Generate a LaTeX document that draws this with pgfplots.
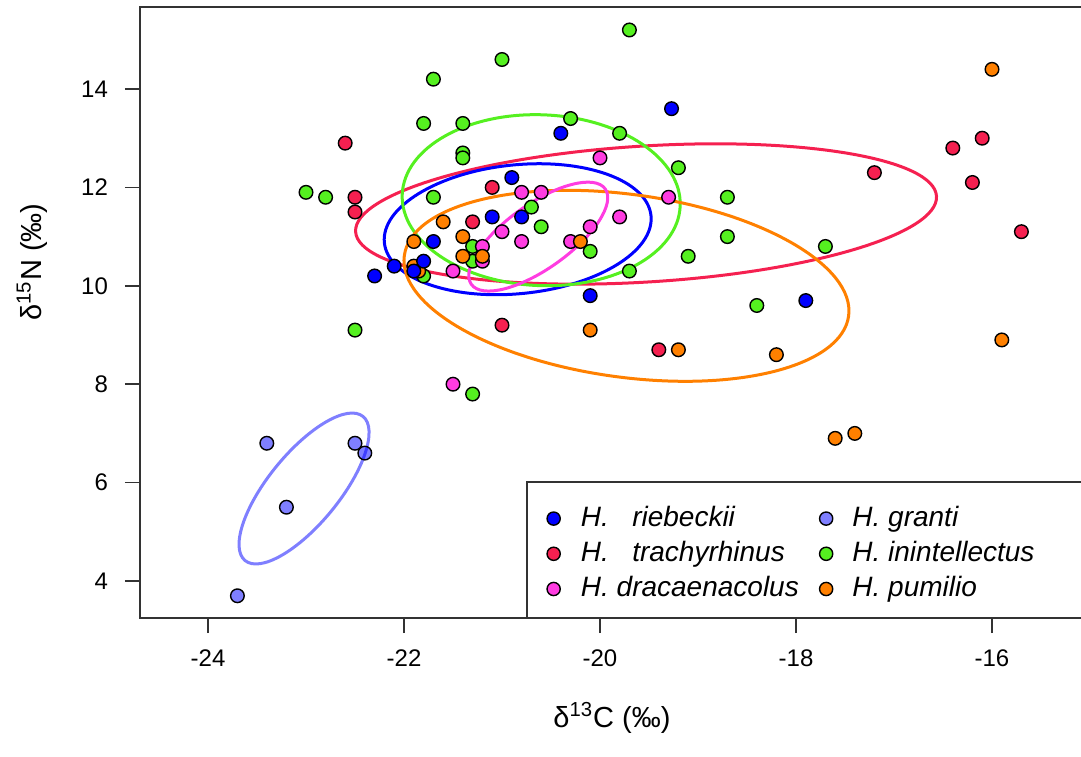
\documentclass[border=0pt]{standalone}
\usepackage{fontspec}
\setmainfont{Liberation Sans}
\usepackage{pgfplots}
\pgfplotsset{compat=1.18}

\definecolor{cblue}{RGB}{0,0,255}
\definecolor{cred}{RGB}{245,32,80}
\definecolor{cmag}{RGB}{255,60,225}
\definecolor{cgreen}{RGB}{85,240,32}
\definecolor{corange}{RGB}{255,128,0}

\pgfplotsset{
  pts/.style={only marks, mark=*, mark size=3.4pt, forget plot,
    mark options={draw=black, line width=0.7pt, fill=#1}},
  ptsfaded/.style={only marks, mark=*, mark size=3.4pt, forget plot,
    mark options={draw=black, line width=0.7pt, fill=#1, fill opacity=0.5}},
}

\begin{document}
\begin{tikzpicture}
\begin{axis}[
  scale only axis,
  width=475pt, height=305.5pt,
  xmin=-24.694, xmax=-15.0,
  ymin=3.248, ymax=15.667,
  xtick={-24,-22,-20,-18,-16},
  ytick={4,6,...,14},
  tick pos=left, tick align=outside,
  major tick length=7.5pt,
  axis line style={black!80, line width=1pt},
  tick style={black!80, line width=0.8pt},
  /pgf/number format/assume math mode=true,
  ticklabel style={font=\fontsize{12}{14}\selectfont},
  xticklabel style={yshift=-5pt},
  yticklabel style={xshift=-5pt},
  xlabel={δ\textsuperscript{13}C (‰)},
  ylabel={δ\textsuperscript{15}N (‰)},
  label style={font=\fontsize{14.5}{16}\selectfont},
  xlabel style={at={(axis description cs:0.4968,-0.1637)}, anchor=center},
  ylabel style={at={(axis description cs:-0.1137,0.5826)}, anchor=center},
  legend columns=2,
  legend cell align=left,
  legend image code/.code={\filldraw[#1, line width=0.7pt] (0pt,0pt) circle[radius=3.3pt];},
  legend style={draw=none, fill=none, at={(axis description cs:0.421,0.192)}, anchor=north west,
    font=\fontsize{14}{16}\selectfont\itshape, row sep=4.1pt,
    nodes={inner xsep=0pt, inner ysep=0pt, text height=10.5pt, text depth=3pt},
    /tikz/column 1/.append style={column sep=10pt},
    /tikz/column 2/.append style={column sep=10pt},
    /tikz/column 3/.append style={column sep=9.5pt}},
]
% legend, row-wise
\addlegendimage{fill=cblue, draw=black}
\addlegendentry{H.\ \ \ riebeckii}
\addlegendimage{fill=cblue, fill opacity=0.5, draw=black}
\addlegendentry{H. granti}
\addlegendimage{fill=cred, draw=black}
\addlegendentry{H.\ \ \ trachyrhinus}
\addlegendimage{fill=cgreen, draw=black}
\addlegendentry{H. inintellectus}
\addlegendimage{fill=cmag, draw=black}
\addlegendentry{H. dracaenacolus}
\addlegendimage{fill=corange, draw=black}
\addlegendentry{H. pumilio}

% standard ellipses
\draw[cred, line width=1.5pt] (axis cs:-19.53,11.46) ellipse[x radius=145.5pt, y radius=34pt, rotate=3.5];
\draw[cblue, line width=1.5pt] (axis cs:-20.84,11.15) ellipse[x radius=67pt, y radius=32.2pt, rotate=5.8];
\draw[cgreen, line width=1.5pt] (axis cs:-20.60,11.74) ellipse[x radius=69.55pt, y radius=42.7pt, rotate=-2.4];
\draw[corange, line width=1.5pt] (axis cs:-19.73,10.00) ellipse[x radius=112.1pt, y radius=45.7pt, rotate=-7.75];
\draw[cmag, line width=1.5pt] (axis cs:-20.63,11.00) ellipse[x radius=41.1pt, y radius=16.1pt, rotate=35.5];
\draw[cblue, draw opacity=0.5, line width=1.5pt] (axis cs:-23.02,5.88) ellipse[x radius=46.55pt, y radius=17.7pt, rotate=50.7];

% H. inintellectus
\addplot[pts=cgreen] coordinates {
(-21.7,14.2) (-19.7,15.2) (-21.0,14.6) (-21.8,13.3) (-21.4,13.3) (-21.4,12.7)
(-21.4,12.6) (-23.0,11.9) (-22.8,11.8) (-21.7,11.8) (-20.3,13.4) (-19.8,13.1)
(-19.2,12.4) (-18.7,11.8) (-18.7,11.0) (-20.7,11.6) (-20.6,11.2) (-20.1,10.7)
(-19.7,10.3) (-19.1,10.6) (-18.4,9.6) (-17.7,10.8) (-21.3,10.8) (-21.3,10.5)
(-21.8,10.2) (-22.5,9.1) (-21.3,7.8)
};
% H. dracaenacolus
\addplot[pts=cmag] coordinates {
(-20.0,12.6) (-20.8,11.9) (-20.6,11.9) (-19.3,11.8) (-19.8,11.4) (-20.1,11.2)
(-21.0,11.1) (-20.8,10.9) (-20.3,10.9) (-21.2,10.8) (-21.2,10.5) (-21.5,10.3)
(-21.5,8.0)
};
% H. trachyrhinus
\addplot[pts=cred] coordinates {
(-22.6,12.9) (-22.5,11.8) (-22.5,11.5) (-21.3,11.3) (-21.1,12.0) (-21.0,9.2)
(-19.4,8.7) (-17.2,12.3) (-16.4,12.8) (-16.1,13.0) (-16.2,12.1) (-15.7,11.1)
};
% H. pumilio
\addplot[pts=corange] coordinates {
(-16.0,14.4) (-21.6,11.3) (-21.9,10.9) (-21.4,11.0) (-21.4,10.6) (-21.2,10.6)
(-21.9,10.4) (-21.85,10.3) (-20.2,10.9) (-20.1,9.1) (-19.2,8.7) (-18.2,8.6)
(-17.6,6.9) (-17.4,7.0) (-15.9,8.9)
};
% H. riebeckii
\addplot[pts=cblue] coordinates {
(-20.4,13.1) (-19.27,13.6) (-20.9,12.2) (-21.1,11.4) (-20.8,11.4) (-21.7,10.9)
(-21.8,10.5) (-22.1,10.4) (-22.3,10.2) (-21.9,10.3) (-20.1,9.8) (-17.9,9.7)
};
% H. granti
\addplot[ptsfaded=cblue] coordinates {
(-23.4,6.8) (-22.5,6.8) (-22.4,6.6) (-23.2,5.5) (-23.7,3.7)
};

% legend frame
\draw[black!80, line width=0.8pt, fill=white] (axis description cs:0.4074,0) rectangle (axis description cs:1.02,0.2226);
\end{axis}
\pgfresetboundingbox
\path[use as bounding box] ([xshift=-70pt,yshift=-69pt]current axis.south west)
  rectangle ([xshift=470.5pt,yshift=3.5pt]current axis.north west);
\end{tikzpicture}
\end{document}
